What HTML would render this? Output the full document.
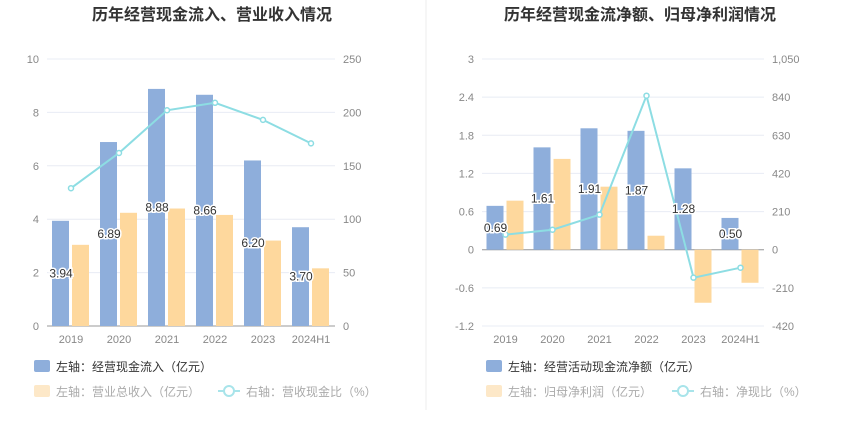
<!DOCTYPE html>
<html><head><meta charset="utf-8"><style>
body{margin:0;background:#fff;width:850px;height:437px;overflow:hidden;font-family:"Liberation Sans","Noto Sans CJK SC",sans-serif}
svg text{font-family:"Liberation Sans","Noto Sans CJK SC",sans-serif}
</style></head><body>
<svg id="c" width="850" height="437" xmlns="http://www.w3.org/2000/svg">
<line x1="426" y1="0" x2="426" y2="410" stroke="#eee"/>
<text x="212" y="20" text-anchor="middle" font-size="16" font-weight="bold" fill="#333">历年经营现金流入、营业收入情况</text>
<text x="640" y="20" text-anchor="middle" font-size="16" font-weight="bold" fill="#333">历年经营现金流净额、归母净利润情况</text>
<g>
<rect x="34" y="360" width="16" height="12" rx="2" fill="#8eaedb"/>
<text x="56" y="371" font-size="12" fill="#333">左轴：经营现金流入（亿元）</text>
<rect x="34" y="385" width="16" height="12" rx="2" fill="#fde8c8"/>
<text x="56" y="396" font-size="12" fill="#aaa">左轴：营业总收入（亿元）</text>
<line x1="218" y1="391" x2="240" y2="391" stroke="#a8e4ea" stroke-width="2"/><circle cx="229" cy="391" r="5" fill="#fff" stroke="#a8e4ea" stroke-width="2"/>
<text x="246" y="396" font-size="12" fill="#aaa">右轴：营收现金比（%）</text>
</g>
<g>
<rect x="486" y="360" width="16" height="12" rx="2" fill="#8eaedb"/>
<text x="508" y="371" font-size="12" fill="#333">左轴：经营活动现金流净额（亿元）</text>
<rect x="486" y="385" width="16" height="12" rx="2" fill="#fde8c8"/>
<text x="508" y="396" font-size="12" fill="#aaa">左轴：归母净利润（亿元）</text>
<line x1="672" y1="391" x2="694" y2="391" stroke="#a8e4ea" stroke-width="2"/><circle cx="683" cy="391" r="5" fill="#fff" stroke="#a8e4ea" stroke-width="2"/>
<text x="700" y="396" font-size="12" fill="#aaa">右轴：净现比（%）</text>
</g>
</svg>
<script>
const categories=["2019","2020","2021","2022","2023","2024H1"];
const leftInflow=[3.94,6.89,8.88,8.66,6.20,3.70];
const leftRevenue=[76,106,110,104,80,54];
const leftRatio=[129,162,202,209,193,171];
const leftTicksL=["0","2","4","6","8","10"];
const leftTicksR=["0","50","100","150","200","250"];
const rightNet=[0.69,1.61,1.91,1.87,1.28,0.50];
const rightProfit=[270,500,347,77,-292,-182];
const rightRatio=[83,110,193,848,-154,-99];
const rightTicksL=["-1.2","-0.6","0","0.6","1.2","1.8","2.4","3"];
const rightTicksR=["-420","-210","0","210","420","630","840","1,050"];
const NS="http://www.w3.org/2000/svg";
const svg=document.getElementById('c');
function el(t,a,p){const e=document.createElementNS(NS,t);for(const k in a)e.setAttribute(k,a[k]);(p||svg).appendChild(e);return e;}
function draw(o){
  const g=el('g',{});
  
  
  const yL=v=>o.y0+(v-o.lmin)/(o.lmax-o.lmin)*(o.y1-o.y0);
  const yR=v=>o.y0+(v-o.rmin)/(o.rmax-o.rmin)*(o.y1-o.y0);
  const cw=(o.x1-o.x0)/categories.length;
  const cx=i=>o.x0+cw*(i+0.5);
  o.tl.forEach((t,i)=>{const v=parseFloat(t.replace(/,/g,''));const y=yL(v);
    el('line',{x1:o.x0,x2:o.x1,y1:y,y2:y,stroke:'#e8ecf4'},g);
    const a=el('text',{x:o.x0-8,y:y+4,'text-anchor':'end','font-size':11,fill:'#888'},g);a.textContent=t;
    
    const b=el('text',{x:o.x1+8,y:y+4,'font-size':11,fill:'#888'},g);b.textContent=o.tr[i];
    });
  el('line',{x1:o.x0,x2:o.x1,y1:yL(0),y2:yL(0),stroke:'#999'},g);
  categories.forEach((c,i)=>{
    const t=el('text',{x:cx(i),y:o.y0+17,'text-anchor':'middle','font-size':11,fill:'#888'},g);t.textContent=c;
    
    const v=o.a[i],y=yL(v),y0=yL(0);
    const r=el('rect',{x:cx(i)-19,y:Math.min(y,y0),width:17,height:Math.abs(y0-y),fill:'#8eaedb'},g);
    
    const w=o.b[i],yb=yR(w),yb0=yR(0);
    const r2=el('rect',{x:cx(i)+1,y:Math.min(yb,yb0),width:17,height:Math.abs(yb0-yb),fill:'#fed89d'},g);
    
  });
  const pts=o.l.map((v,i)=>cx(i)+','+yR(v)).join(' ');
  const pl=el('polyline',{points:pts,fill:'none',stroke:'#8ddde3','stroke-width':2},g);
  
  o.l.forEach((v,i)=>{const p=el('circle',{cx:cx(i),cy:yR(v),r:2.5,fill:'#fff',stroke:'#8ddde3','stroke-width':1.5},g);
    });
  o.a.forEach((v,i)=>{const y=(yL(v)+yL(0))/2;
    const t=el('text',{x:cx(i)-10,y:y+4,'text-anchor':'middle','font-size':12,fill:'#333',stroke:'#fff','stroke-width':3,'paint-order':'stroke'},g);
    t.textContent=v.toFixed(2);});
}
draw({name:'left-chart',x0:47,x1:335,y0:326,y1:59,lmin:0,lmax:10,rmin:0,rmax:250,tl:leftTicksL,tr:leftTicksR,a:leftInflow,b:leftRevenue,l:leftRatio,aname:'inflow',bname:'revenue',lname:'ratio'});
draw({name:'right-chart',x0:482,x1:764,y0:326,y1:59,lmin:-1.2,lmax:3,rmin:-420,rmax:1050,tl:rightTicksL,tr:rightTicksR,a:rightNet,b:rightProfit,l:rightRatio,aname:'netflow',bname:'profit',lname:'net-ratio'});
</script>
</body></html>
